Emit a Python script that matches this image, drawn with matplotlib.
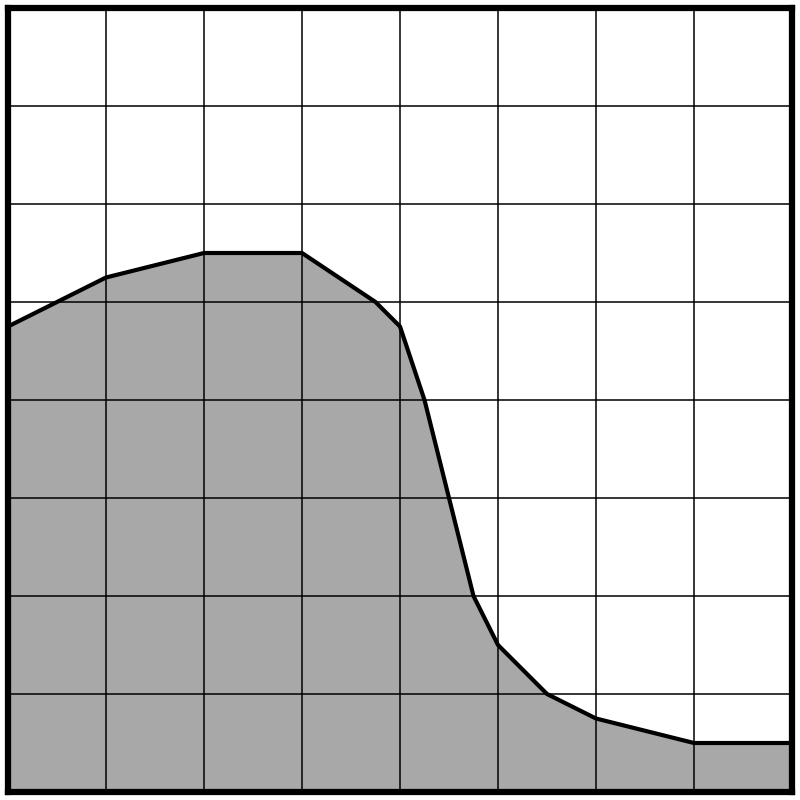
import matplotlib
matplotlib.use('Agg')
import matplotlib.pyplot as plt

# profile (8 x 8 cells)
xs = [0, 1, 2, 3, 3.75, 4, 4.25, 4.75, 5, 5.5, 6, 7, 8]
ys = [4.75, 5.25, 5.5, 5.5, 5.0, 4.75, 4.0, 2.0, 1.5, 1.0, 0.75, 0.5, 0.5]
ticks = [0, 1, 2, 3, 4, 5, 6, 7, 8]

fig = plt.figure(figsize=(8, 8), dpi=100)
ax = fig.add_axes([0.01, 0.01, 0.98, 0.98])

ax.fill_between(xs, ys, 0, color='#a8a8a8', linewidth=0)
ax.plot(xs, ys, color='black', linewidth=3)

ax.set_xlim(0, 8)
ax.set_ylim(0, 8)
ax.set_xticks(ticks)
ax.set_yticks(ticks)
ax.grid(True, color='black', linewidth=1.1)
ax.tick_params(length=0, labelbottom=False, labelleft=False)
for s in ax.spines.values():
    s.set_linewidth(4.5)

fig.savefig('out.png', dpi=100)
